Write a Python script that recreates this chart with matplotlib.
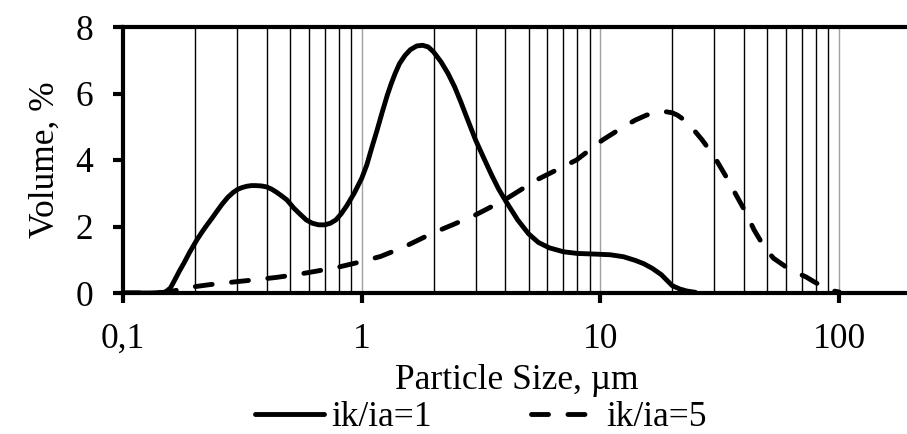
import numpy as np
import matplotlib
matplotlib.use("Agg")
import matplotlib.pyplot as plt
from matplotlib.ticker import FixedLocator, LogLocator, NullFormatter

plt.rcParams["font.family"] = ["Liberation Serif", "DejaVu Serif"]

# ik/ia = 1 (solid)
size_1 = [0.1, 0.13, 0.15, 0.158, 0.165, 0.172, 0.18, 0.19, 0.204, 0.215, 0.225, 0.236,
          0.247, 0.26, 0.275, 0.29, 0.303, 0.315, 0.33, 0.345, 0.36, 0.38, 0.40, 0.42,
          0.44, 0.46, 0.486, 0.52, 0.55, 0.585, 0.62, 0.66, 0.70, 0.74, 0.78, 0.82,
          0.865, 0.93, 1.0, 1.05, 1.1, 1.16, 1.22, 1.28, 1.33, 1.38, 1.44, 1.52, 1.6,
          1.7, 1.8, 1.9, 2.0, 2.15, 2.3, 2.45, 2.6, 2.8, 3.0, 3.25, 3.5, 3.75, 4.0,
          4.5, 5.0, 5.5, 6.1, 7.0, 8.0, 9.5, 11, 12.5, 14, 15.2, 16.5, 18, 19, 20,
          21.5, 23, 25]
vol_1 = [0, 0, 0.02, 0.15, 0.4, 0.65, 0.9, 1.22, 1.6, 1.85, 2.05, 2.25,
         2.45, 2.67, 2.88, 3.03, 3.12, 3.17, 3.21, 3.23, 3.23, 3.22, 3.19, 3.12,
         3.03, 2.93, 2.8, 2.55, 2.38, 2.2, 2.1, 2.05, 2.05, 2.1, 2.2, 2.38,
         2.62, 3.0, 3.45, 3.85, 4.35, 4.9, 5.45, 5.95, 6.3, 6.6, 6.9, 7.15, 7.32,
         7.43, 7.45, 7.4, 7.25, 6.95, 6.6, 6.2, 5.75, 5.15, 4.6, 4.05, 3.55, 3.12, 2.78,
         2.2, 1.78, 1.52, 1.36, 1.24, 1.19, 1.17, 1.15, 1.09, 0.98, 0.88, 0.74, 0.55, 0.38, 0.22,
         0.12, 0.06, 0.02]

# ik/ia = 5 (dashed)
size_5 = [0.1, 0.14, 0.16, 0.19, 0.23, 0.29, 0.36, 0.44, 0.54, 0.65, 0.8, 0.98, 1.2,
          1.5, 1.98, 2.4, 3.0, 3.97, 5.4, 7.94, 10.2, 12.5, 14, 15.6, 17, 18.5, 20, 21,
          22.5, 24, 26.7, 30, 33.6, 37, 40.8, 44, 48.6, 53, 60, 66, 72.8, 78, 85, 92, 100]
vol_5 = [0, 0, 0.05, 0.17, 0.25, 0.33, 0.4, 0.47, 0.56, 0.66, 0.78, 0.93, 1.1,
         1.38, 1.8, 2.05, 2.35, 2.8, 3.4, 4.0, 4.6, 5.0, 5.2, 5.35, 5.43, 5.46, 5.42, 5.35,
         5.2, 5.0, 4.6, 4.1, 3.5, 2.95, 2.4, 1.9, 1.38, 1.05, 0.78, 0.62, 0.48, 0.35, 0.2, 0.08, 0.03]

xticks = [0.1, 1, 10, 100]
xticklabels = ["0,1", "1", "10", "100"]
yticks = [0, 2, 4, 6, 8]

fs = 25.5

fig = plt.figure(figsize=(9.07, 4.34), dpi=100)
ax = fig.add_axes([123 / 907, 141 / 434, 788 / 907, 266 / 434])

ax.plot(size_1, vol_1, color="black", lw=3.5, solid_capstyle="round",
        solid_joinstyle="round", label="ik/ia=1", zorder=3)
ax.plot(size_5, vol_5, color="black", lw=3.5, dashes=(3.5, 4.0), dash_capstyle="round",
        label="ik/ia=5", zorder=3)

ax.set_xscale("log")
ax.set_xlim(0.1, 200)
ax.set_ylim(0, 8)

ax.xaxis.set_major_locator(FixedLocator(xticks))
ax.set_xticklabels(xticklabels)
ax.xaxis.set_minor_locator(LogLocator(base=10, subs=np.arange(2, 10)))
ax.xaxis.set_minor_formatter(NullFormatter())
ax.set_yticks(yticks)

ax.grid(True, which="minor", axis="x", color="black", lw=1)
ax.grid(True, which="major", axis="x", color="#a0a0a0", lw=1)

for s in ["left", "bottom", "top"]:
    ax.spines[s].set_linewidth(3)
ax.spines["right"].set_visible(False)

ax.tick_params(axis="both", which="major", direction="out", width=3, length=7.5,
               labelsize=fs, colors="black")
ax.tick_params(axis="x", which="minor", length=0)
ax.tick_params(axis="x", pad=14)
ax.tick_params(axis="y", pad=14)

ax.set_xlabel("Particle Size, µm", fontsize=fs, labelpad=6)
ax.set_ylabel("Volume, %", fontsize=fs, labelpad=10)

fig.legend(loc="center", bbox_to_anchor=(481 / 907, 1 - 418 / 434), ncol=2, frameon=False,
           fontsize=fs, handlelength=1.95, handletextpad=0.2, columnspacing=2.8,
           borderpad=0)

fig.savefig("out.png", dpi=100)
